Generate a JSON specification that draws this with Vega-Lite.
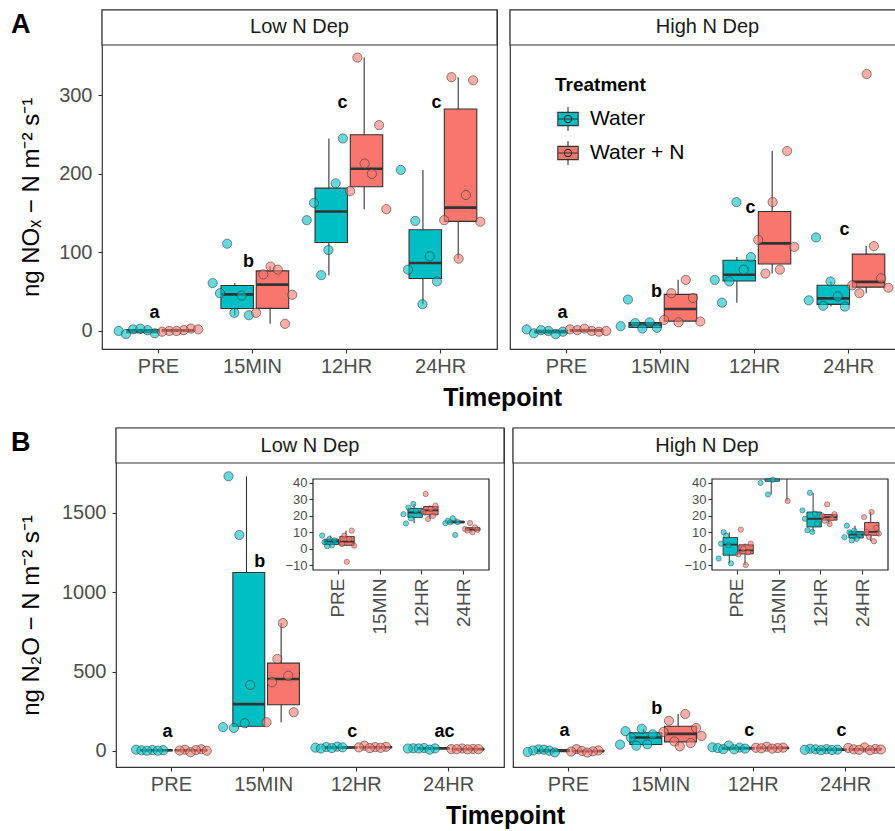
{
  "$schema": "https://vega.github.io/schema/vega-lite/v6.json",
  "background": "white",
  "padding": {"left": 10, "top": 8, "right": 0, "bottom": 0},
  "datasets": {
    "nox": [
      {"dep":"Low","time":"PRE","trt":"Water","rep":3,"flux":2},{"dep":"Low","time":"PRE","trt":"Water","rep":6,"flux":-3},{"dep":"Low","time":"PRE","trt":"Water","rep":1,"flux":0},{"dep":"Low","time":"PRE","trt":"Water","rep":5,"flux":1},{"dep":"Low","time":"PRE","trt":"Water","rep":2,"flux":-4},{"dep":"Low","time":"PRE","trt":"Water","rep":4,"flux":3},
      {"dep":"Low","time":"PRE","trt":"Water + N","rep":5,"flux":3},{"dep":"Low","time":"PRE","trt":"Water + N","rep":2,"flux":0},{"dep":"Low","time":"PRE","trt":"Water + N","rep":4,"flux":1},{"dep":"Low","time":"PRE","trt":"Water + N","rep":1,"flux":-1},{"dep":"Low","time":"PRE","trt":"Water + N","rep":6,"flux":2},{"dep":"Low","time":"PRE","trt":"Water + N","rep":3,"flux":0},
      {"dep":"Low","time":"15MIN","trt":"Water","rep":3,"flux":111},{"dep":"Low","time":"15MIN","trt":"Water","rep":1,"flux":61},{"dep":"Low","time":"15MIN","trt":"Water","rep":2,"flux":48},{"dep":"Low","time":"15MIN","trt":"Water","rep":5,"flux":45},{"dep":"Low","time":"15MIN","trt":"Water","rep":4,"flux":23},{"dep":"Low","time":"15MIN","trt":"Water","rep":6,"flux":20},
      {"dep":"Low","time":"15MIN","trt":"Water + N","rep":3,"flux":82},{"dep":"Low","time":"15MIN","trt":"Water + N","rep":4,"flux":78},{"dep":"Low","time":"15MIN","trt":"Water + N","rep":2,"flux":72},{"dep":"Low","time":"15MIN","trt":"Water + N","rep":6,"flux":46},{"dep":"Low","time":"15MIN","trt":"Water + N","rep":1,"flux":23},{"dep":"Low","time":"15MIN","trt":"Water + N","rep":5,"flux":9},
      {"dep":"Low","time":"12HR","trt":"Water","rep":6,"flux":245},{"dep":"Low","time":"12HR","trt":"Water","rep":5,"flux":188},{"dep":"Low","time":"12HR","trt":"Water","rep":2,"flux":163},{"dep":"Low","time":"12HR","trt":"Water","rep":1,"flux":141},{"dep":"Low","time":"12HR","trt":"Water","rep":4,"flux":103},{"dep":"Low","time":"12HR","trt":"Water","rep":3,"flux":71},
      {"dep":"Low","time":"12HR","trt":"Water + N","rep":2,"flux":348},{"dep":"Low","time":"12HR","trt":"Water + N","rep":5,"flux":262},{"dep":"Low","time":"12HR","trt":"Water + N","rep":3,"flux":213},{"dep":"Low","time":"12HR","trt":"Water + N","rep":4,"flux":200},{"dep":"Low","time":"12HR","trt":"Water + N","rep":1,"flux":178},{"dep":"Low","time":"12HR","trt":"Water + N","rep":6,"flux":155},
      {"dep":"Low","time":"24HR","trt":"Water","rep":1,"flux":205},{"dep":"Low","time":"24HR","trt":"Water","rep":3,"flux":140},{"dep":"Low","time":"24HR","trt":"Water","rep":5,"flux":95},{"dep":"Low","time":"24HR","trt":"Water","rep":2,"flux":78},{"dep":"Low","time":"24HR","trt":"Water","rep":6,"flux":63},{"dep":"Low","time":"24HR","trt":"Water","rep":4,"flux":34},
      {"dep":"Low","time":"24HR","trt":"Water + N","rep":2,"flux":323},{"dep":"Low","time":"24HR","trt":"Water + N","rep":5,"flux":319},{"dep":"Low","time":"24HR","trt":"Water + N","rep":4,"flux":173},{"dep":"Low","time":"24HR","trt":"Water + N","rep":1,"flux":141},{"dep":"Low","time":"24HR","trt":"Water + N","rep":6,"flux":139},{"dep":"Low","time":"24HR","trt":"Water + N","rep":3,"flux":92},
      {"dep":"High","time":"PRE","trt":"Water","rep":2,"flux":-3},{"dep":"High","time":"PRE","trt":"Water","rep":4,"flux":0},{"dep":"High","time":"PRE","trt":"Water","rep":1,"flux":2},{"dep":"High","time":"PRE","trt":"Water","rep":6,"flux":-1},{"dep":"High","time":"PRE","trt":"Water","rep":3,"flux":1},{"dep":"High","time":"PRE","trt":"Water","rep":5,"flux":-4},
      {"dep":"High","time":"PRE","trt":"Water + N","rep":4,"flux":0},{"dep":"High","time":"PRE","trt":"Water + N","rep":1,"flux":2},{"dep":"High","time":"PRE","trt":"Water + N","rep":5,"flux":-1},{"dep":"High","time":"PRE","trt":"Water + N","rep":2,"flux":1},{"dep":"High","time":"PRE","trt":"Water + N","rep":6,"flux":0},{"dep":"High","time":"PRE","trt":"Water + N","rep":3,"flux":3},
      {"dep":"High","time":"15MIN","trt":"Water","rep":2,"flux":40},{"dep":"High","time":"15MIN","trt":"Water","rep":5,"flux":11},{"dep":"High","time":"15MIN","trt":"Water","rep":3,"flux":10},{"dep":"High","time":"15MIN","trt":"Water","rep":1,"flux":6},{"dep":"High","time":"15MIN","trt":"Water","rep":6,"flux":4},{"dep":"High","time":"15MIN","trt":"Water","rep":4,"flux":3},
      {"dep":"High","time":"15MIN","trt":"Water + N","rep":4,"flux":65},{"dep":"High","time":"15MIN","trt":"Water + N","rep":2,"flux":48},{"dep":"High","time":"15MIN","trt":"Water + N","rep":5,"flux":42},{"dep":"High","time":"15MIN","trt":"Water + N","rep":1,"flux":14},{"dep":"High","time":"15MIN","trt":"Water + N","rep":6,"flux":12},{"dep":"High","time":"15MIN","trt":"Water + N","rep":3,"flux":11},
      {"dep":"High","time":"12HR","trt":"Water","rep":4,"flux":164},{"dep":"High","time":"12HR","trt":"Water","rep":6,"flux":94},{"dep":"High","time":"12HR","trt":"Water","rep":5,"flux":78},{"dep":"High","time":"12HR","trt":"Water","rep":1,"flux":65},{"dep":"High","time":"12HR","trt":"Water","rep":3,"flux":63},{"dep":"High","time":"12HR","trt":"Water","rep":2,"flux":36},
      {"dep":"High","time":"12HR","trt":"Water + N","rep":5,"flux":229},{"dep":"High","time":"12HR","trt":"Water + N","rep":3,"flux":164},{"dep":"High","time":"12HR","trt":"Water + N","rep":1,"flux":116},{"dep":"High","time":"12HR","trt":"Water + N","rep":6,"flux":107},{"dep":"High","time":"12HR","trt":"Water + N","rep":4,"flux":78},{"dep":"High","time":"12HR","trt":"Water + N","rep":2,"flux":73},
      {"dep":"High","time":"24HR","trt":"Water","rep":2,"flux":119},{"dep":"High","time":"24HR","trt":"Water","rep":4,"flux":63},{"dep":"High","time":"24HR","trt":"Water","rep":5,"flux":44},{"dep":"High","time":"24HR","trt":"Water","rep":1,"flux":39},{"dep":"High","time":"24HR","trt":"Water","rep":3,"flux":32},{"dep":"High","time":"24HR","trt":"Water","rep":6,"flux":31},
      {"dep":"High","time":"24HR","trt":"Water + N","rep":3,"flux":327},{"dep":"High","time":"24HR","trt":"Water + N","rep":4,"flux":108},{"dep":"High","time":"24HR","trt":"Water + N","rep":5,"flux":67},{"dep":"High","time":"24HR","trt":"Water + N","rep":1,"flux":58},{"dep":"High","time":"24HR","trt":"Water + N","rep":6,"flux":55},{"dep":"High","time":"24HR","trt":"Water + N","rep":2,"flux":48}
    ],
    "n2o": [
      {"dep":"Low","time":"PRE","trt":"Water","rep":2,"flux":8},{"dep":"Low","time":"PRE","trt":"Water","rep":5,"flux":6},{"dep":"Low","time":"PRE","trt":"Water","rep":7,"flux":5},{"dep":"Low","time":"PRE","trt":"Water","rep":3,"flux":4},{"dep":"Low","time":"PRE","trt":"Water","rep":6,"flux":2},{"dep":"Low","time":"PRE","trt":"Water","rep":4,"flux":1.5},
      {"dep":"Low","time":"PRE","trt":"Water + N","rep":6,"flux":11},{"dep":"Low","time":"PRE","trt":"Water + N","rep":3,"flux":8},{"dep":"Low","time":"PRE","trt":"Water + N","rep":5,"flux":5.8},{"dep":"Low","time":"PRE","trt":"Water + N","rep":2,"flux":2.8},{"dep":"Low","time":"PRE","trt":"Water + N","rep":7,"flux":1.8},{"dep":"Low","time":"PRE","trt":"Water + N","rep":4,"flux":-8},
      {"dep":"Low","time":"15MIN","trt":"Water","rep":2,"flux":1731},{"dep":"Low","time":"15MIN","trt":"Water","rep":4,"flux":1361},{"dep":"Low","time":"15MIN","trt":"Water","rep":6,"flux":416},{"dep":"Low","time":"15MIN","trt":"Water","rep":5,"flux":175},{"dep":"Low","time":"15MIN","trt":"Water","rep":1,"flux":150},{"dep":"Low","time":"15MIN","trt":"Water","rep":3,"flux":145},
      {"dep":"Low","time":"15MIN","trt":"Water + N","rep":4,"flux":806},{"dep":"Low","time":"15MIN","trt":"Water + N","rep":3,"flux":580},{"dep":"Low","time":"15MIN","trt":"Water + N","rep":5,"flux":474},{"dep":"Low","time":"15MIN","trt":"Water + N","rep":2,"flux":433},{"dep":"Low","time":"15MIN","trt":"Water + N","rep":6,"flux":244},{"dep":"Low","time":"15MIN","trt":"Water + N","rep":1,"flux":181},
      {"dep":"Low","time":"12HR","trt":"Water","rep":5,"flux":27.2},{"dep":"Low","time":"12HR","trt":"Water","rep":3,"flux":25},{"dep":"Low","time":"12HR","trt":"Water","rep":6,"flux":23},{"dep":"Low","time":"12HR","trt":"Water","rep":1,"flux":21},{"dep":"Low","time":"12HR","trt":"Water","rep":4,"flux":18.4},{"dep":"Low","time":"12HR","trt":"Water","rep":2,"flux":15.4},
      {"dep":"Low","time":"12HR","trt":"Water + N","rep":2,"flux":33.3},{"dep":"Low","time":"12HR","trt":"Water + N","rep":6,"flux":26.2},{"dep":"Low","time":"12HR","trt":"Water + N","rep":4,"flux":24.1},{"dep":"Low","time":"12HR","trt":"Water + N","rep":1,"flux":22.5},{"dep":"Low","time":"12HR","trt":"Water + N","rep":5,"flux":20},{"dep":"Low","time":"12HR","trt":"Water + N","rep":3,"flux":18},
      {"dep":"Low","time":"24HR","trt":"Water","rep":4,"flux":18.5},{"dep":"Low","time":"24HR","trt":"Water","rep":2,"flux":17},{"dep":"Low","time":"24HR","trt":"Water","rep":6,"flux":16.2},{"dep":"Low","time":"24HR","trt":"Water","rep":3,"flux":16},{"dep":"Low","time":"24HR","trt":"Water","rep":1,"flux":15.5},{"dep":"Low","time":"24HR","trt":"Water","rep":5,"flux":8.3},
      {"dep":"Low","time":"24HR","trt":"Water + N","rep":3,"flux":15.6},{"dep":"Low","time":"24HR","trt":"Water + N","rep":5,"flux":13},{"dep":"Low","time":"24HR","trt":"Water + N","rep":1,"flux":12},{"dep":"Low","time":"24HR","trt":"Water + N","rep":6,"flux":11.5},{"dep":"Low","time":"24HR","trt":"Water + N","rep":2,"flux":11},{"dep":"Low","time":"24HR","trt":"Water + N","rep":4,"flux":10},
      {"dep":"High","time":"PRE","trt":"Water","rep":3,"flux":10},{"dep":"High","time":"PRE","trt":"Water","rep":4,"flux":8},{"dep":"High","time":"PRE","trt":"Water","rep":2,"flux":3},{"dep":"High","time":"PRE","trt":"Water","rep":5,"flux":2},{"dep":"High","time":"PRE","trt":"Water","rep":1,"flux":-6},{"dep":"High","time":"PRE","trt":"Water","rep":6,"flux":-9},
      {"dep":"High","time":"PRE","trt":"Water + N","rep":2,"flux":11.6},{"dep":"High","time":"PRE","trt":"Water + N","rep":6,"flux":3.1},{"dep":"High","time":"PRE","trt":"Water + N","rep":3,"flux":0.1},{"dep":"High","time":"PRE","trt":"Water + N","rep":5,"flux":-2.3},{"dep":"High","time":"PRE","trt":"Water + N","rep":1,"flux":-3.5},{"dep":"High","time":"PRE","trt":"Water + N","rep":4,"flux":-10},
      {"dep":"High","time":"15MIN","trt":"Water","rep":5,"flux":140},{"dep":"High","time":"15MIN","trt":"Water","rep":2,"flux":125},{"dep":"High","time":"15MIN","trt":"Water","rep":7,"flux":105},{"dep":"High","time":"15MIN","trt":"Water","rep":3,"flux":85},{"dep":"High","time":"15MIN","trt":"Water","rep":6,"flux":42},{"dep":"High","time":"15MIN","trt":"Water","rep":1,"flux":40},{"dep":"High","time":"15MIN","trt":"Water","rep":4,"flux":33},
      {"dep":"High","time":"15MIN","trt":"Water + N","rep":5,"flux":233},{"dep":"High","time":"15MIN","trt":"Water + N","rep":2,"flux":190},{"dep":"High","time":"15MIN","trt":"Water + N","rep":7,"flux":145},{"dep":"High","time":"15MIN","trt":"Water + N","rep":1,"flux":120},{"dep":"High","time":"15MIN","trt":"Water + N","rep":8,"flux":95},{"dep":"High","time":"15MIN","trt":"Water + N","rep":3,"flux":60},{"dep":"High","time":"15MIN","trt":"Water + N","rep":6,"flux":50},{"dep":"High","time":"15MIN","trt":"Water + N","rep":4,"flux":29},
      {"dep":"High","time":"12HR","trt":"Water","rep":4,"flux":34},{"dep":"High","time":"12HR","trt":"Water","rep":1,"flux":23.3},{"dep":"High","time":"12HR","trt":"Water","rep":6,"flux":21.3},{"dep":"High","time":"12HR","trt":"Water","rep":2,"flux":18.2},{"dep":"High","time":"12HR","trt":"Water","rep":7,"flux":15.2},{"dep":"High","time":"12HR","trt":"Water","rep":3,"flux":11.2},{"dep":"High","time":"12HR","trt":"Water","rep":5,"flux":10.2},
      {"dep":"High","time":"12HR","trt":"Water + N","rep":3,"flux":27},{"dep":"High","time":"12HR","trt":"Water + N","rep":6,"flux":21},{"dep":"High","time":"12HR","trt":"Water + N","rep":1,"flux":20},{"dep":"High","time":"12HR","trt":"Water + N","rep":5,"flux":18.5},{"dep":"High","time":"12HR","trt":"Water + N","rep":2,"flux":17},{"dep":"High","time":"12HR","trt":"Water + N","rep":4,"flux":15},
      {"dep":"High","time":"24HR","trt":"Water","rep":2,"flux":14},{"dep":"High","time":"24HR","trt":"Water","rep":5,"flux":11},{"dep":"High","time":"24HR","trt":"Water","rep":3,"flux":10},{"dep":"High","time":"24HR","trt":"Water","rep":7,"flux":8.5},{"dep":"High","time":"24HR","trt":"Water","rep":1,"flux":7},{"dep":"High","time":"24HR","trt":"Water","rep":6,"flux":6},{"dep":"High","time":"24HR","trt":"Water","rep":4,"flux":5},
      {"dep":"High","time":"24HR","trt":"Water + N","rep":4,"flux":22.3},{"dep":"High","time":"24HR","trt":"Water + N","rep":1,"flux":19.2},{"dep":"High","time":"24HR","trt":"Water + N","rep":6,"flux":12.6},{"dep":"High","time":"24HR","trt":"Water + N","rep":2,"flux":10.2},{"dep":"High","time":"24HR","trt":"Water + N","rep":7,"flux":9.2},{"dep":"High","time":"24HR","trt":"Water + N","rep":3,"flux":7.1},{"dep":"High","time":"24HR","trt":"Water + N","rep":5,"flux":4.5}
    ],
    "lettersA": [
      {"dep":"Low","time":"PRE","lab":"a","ly":23},{"dep":"Low","time":"15MIN","lab":"b","ly":88},{"dep":"Low","time":"12HR","lab":"c","ly":290},{"dep":"Low","time":"24HR","lab":"c","ly":290},
      {"dep":"High","time":"PRE","lab":"a","ly":23},{"dep":"High","time":"15MIN","lab":"b","ly":50},{"dep":"High","time":"12HR","lab":"c","ly":157},{"dep":"High","time":"24HR","lab":"c","ly":129}
    ],
    "lettersB": [
      {"dep":"Low","time":"PRE","lab":"a","ly":120},{"dep":"Low","time":"15MIN","lab":"b","ly":1190},{"dep":"Low","time":"12HR","lab":"c","ly":120},{"dep":"Low","time":"24HR","lab":"ac","ly":120},
      {"dep":"High","time":"PRE","lab":"a","ly":126},{"dep":"High","time":"15MIN","lab":"b","ly":265},{"dep":"High","time":"12HR","lab":"c","ly":126},{"dep":"High","time":"24HR","lab":"c","ly":126}
    ]
  },
  "spacing": 15,
  "align": "none",
  "resolve": {"scale": {"color": "independent", "xOffset": "independent"}},
  "vconcat": [
    {
      "title": {"text": "A", "orient": "left", "anchor": "end", "angle": 0, "align": "right", "baseline": "top", "fontSize": 27, "fontWeight": "bold", "color": "black", "offset": -31, "dy": 3},
      "resolve": {"scale": {"color": "independent", "xOffset": "independent"}},
      "vconcat": [
        {
          "title": {"text": "Timepoint", "orient": "bottom", "anchor": "middle", "frame": "bounds", "fontSize": 25, "fontWeight": "bold", "color": "black", "offset": 9, "dx": 40},
          "spacing": 9,
          "resolve": {"scale": {"color": "independent", "xOffset": "independent"}},
          "hconcat": [
            {
              "data": {"name": "nox"},
              "transform": [{"filter": "datum.dep == 'Low'"}],
              "width": 395, "height": 339,
              "resolve": {"scale": {"xOffset": "independent"}},
              "layer": [
                {"data": {"values": [{"lab": "Low N Dep"}]},
                 "mark": {"type": "rect", "fill": "white", "stroke": "#333333", "strokeWidth": 1.2},
                 "encoding": {"y": {"datum": 364, "type": "quantitative", "scale": {"domain": [-23, 364], "range": [339, 35], "nice": false, "zero": false}, "axis": {"orient": "left", "values": [0, 100, 200, 300], "title": "ng NOₓ − N m⁻² s⁻¹", "titleFontSize": 24, "titlePadding": 15}}, "y2": {"datum": 408.6}}},
                {"data": {"values": [{"lab": "Low N Dep"}]},
                 "mark": {"type": "text", "fontSize": 20, "color": "#1a1a1a"},
                 "encoding": {"y": {"datum": 386.3, "type": "quantitative"}, "text": {"field": "lab"}}},
                {
                  "transform": [
                    {"joinaggregate": [{"op": "q1", "field": "flux", "as": "q1"}, {"op": "q3", "field": "flux", "as": "q3"}, {"op": "median", "field": "flux", "as": "med"}], "groupby": ["time", "trt"]},
                    {"calculate": "datum.q1 - 1.5 * (datum.q3 - datum.q1)", "as": "lf"},
                    {"calculate": "datum.q3 + 1.5 * (datum.q3 - datum.q1)", "as": "hf"},
                    {"filter": "datum.flux >= datum.lf && datum.flux <= datum.hf"},
                    {"aggregate": [{"op": "min", "field": "flux", "as": "lo"}, {"op": "max", "field": "flux", "as": "hi"}, {"op": "min", "field": "q1", "as": "q1"}, {"op": "min", "field": "q3", "as": "q3"}, {"op": "min", "field": "med", "as": "med"}], "groupby": ["time", "trt"]}
                  ],
                  "layer": [
                    {"mark": {"type": "rule", "color": "#333333", "strokeWidth": 1.1},
                     "encoding": {
                       "x": {"field": "time", "type": "nominal", "sort": ["PRE","15MIN","12HR","24HR"], "scale": {"domain": ["PRE","15MIN","12HR","24HR"], "paddingInner": 0, "paddingOuter": 0.1}, "axis": {"orient": "bottom", "title": null}},
                       "xOffset": {"field": "trt", "type": "nominal", "scale": {"domain": ["Water", "Water + N"], "paddingInner": 0, "paddingOuter": 0.333}},
                       "y": {"field": "lo", "type": "quantitative"},
                       "y2": {"field": "hi"}}},
                    {"mark": {"type": "bar", "stroke": "#333333", "strokeWidth": 1.1, "width": {"band": 0.92}},
                     "encoding": {
                       "x": {"field": "time", "type": "nominal", "sort": ["PRE","15MIN","12HR","24HR"]},
                       "xOffset": {"field": "trt", "type": "nominal"},
                       "y": {"field": "q1", "type": "quantitative"},
                       "y2": {"field": "q3"},
                       "color": {"field": "trt", "type": "nominal", "scale": {"domain": ["Water", "Water + N"], "range": ["#00BFC4", "#F8766D"]}, "legend": null}}},
                    {"mark": {"type": "bar", "fillOpacity": 0, "stroke": "#333333", "strokeWidth": 2.6, "width": {"band": 0.92}},
                     "encoding": {
                       "x": {"field": "time", "type": "nominal", "sort": ["PRE","15MIN","12HR","24HR"]},
                       "xOffset": {"field": "trt", "type": "nominal"},
                       "y": {"field": "med", "type": "quantitative"},
                       "y2": {"field": "med"}}}
                  ]
                },
                {
                  "transform": [{"calculate": "(datum.trt == 'Water' ? 'W' : 'N') + datum.rep", "as": "slot"}],
                  "mark": {"type": "point", "filled": true, "size": 85, "fillOpacity": 0.6, "stroke": "#333333", "strokeWidth": 0.8, "strokeOpacity": 0.7},
                  "encoding": {
                    "x": {"field": "time", "type": "nominal", "sort": ["PRE","15MIN","12HR","24HR"]},
                    "xOffset": {"field": "slot", "type": "nominal", "scale": {"domain": ["W1","W2","W3","W4","W5","W6","N1","N2","N3","N4","N5","N6"], "paddingInner": 0, "paddingOuter": 2}},
                    "y": {"field": "flux", "type": "quantitative"},
                    "color": {"field": "trt", "type": "nominal", "legend": null}}
                },
                {
                  "data": {"name": "lettersA"},
                  "transform": [{"filter": "datum.dep == 'Low'"}],
                  "mark": {"type": "text", "fontWeight": "bold", "fontSize": 18, "dx": -4, "color": "black"},
                  "encoding": {
                    "x": {"field": "time", "type": "nominal", "sort": ["PRE","15MIN","12HR","24HR"]},
                    "y": {"field": "ly", "type": "quantitative"},
                    "text": {"field": "lab"}}
                }
              ]
            },
            {
              "data": {"name": "nox"},
              "transform": [{"filter": "datum.dep == 'High'"}],
              "width": 395, "height": 339,
              "resolve": {"scale": {"xOffset": "independent"}},
              "layer": [
                {"data": {"values": [{"lab": "High N Dep"}]},
                 "mark": {"type": "rect", "fill": "white", "stroke": "#333333", "strokeWidth": 1.2},
                 "encoding": {"y": {"datum": 364, "type": "quantitative", "scale": {"domain": [-23, 364], "range": [339, 35], "nice": false, "zero": false}, "axis": null}, "y2": {"datum": 408.6}}},
                {"data": {"values": [{"lab": "High N Dep"}]},
                 "mark": {"type": "text", "fontSize": 20, "color": "#1a1a1a"},
                 "encoding": {"y": {"datum": 386.3, "type": "quantitative"}, "text": {"field": "lab"}}},
                {
                  "transform": [
                    {"joinaggregate": [{"op": "q1", "field": "flux", "as": "q1"}, {"op": "q3", "field": "flux", "as": "q3"}, {"op": "median", "field": "flux", "as": "med"}], "groupby": ["time", "trt"]},
                    {"calculate": "datum.q1 - 1.5 * (datum.q3 - datum.q1)", "as": "lf"},
                    {"calculate": "datum.q3 + 1.5 * (datum.q3 - datum.q1)", "as": "hf"},
                    {"filter": "datum.flux >= datum.lf && datum.flux <= datum.hf"},
                    {"aggregate": [{"op": "min", "field": "flux", "as": "lo"}, {"op": "max", "field": "flux", "as": "hi"}, {"op": "min", "field": "q1", "as": "q1"}, {"op": "min", "field": "q3", "as": "q3"}, {"op": "min", "field": "med", "as": "med"}], "groupby": ["time", "trt"]}
                  ],
                  "layer": [
                    {"mark": {"type": "rule", "color": "#333333", "strokeWidth": 1.1},
                     "encoding": {
                       "x": {"field": "time", "type": "nominal", "sort": ["PRE","15MIN","12HR","24HR"], "scale": {"domain": ["PRE","15MIN","12HR","24HR"], "paddingInner": 0, "paddingOuter": 0.1}, "axis": {"orient": "bottom", "title": null}},
                       "xOffset": {"field": "trt", "type": "nominal", "scale": {"domain": ["Water", "Water + N"], "paddingInner": 0, "paddingOuter": 0.333}},
                       "y": {"field": "lo", "type": "quantitative"},
                       "y2": {"field": "hi"}}},
                    {"mark": {"type": "bar", "stroke": "#333333", "strokeWidth": 1.1, "width": {"band": 0.92}},
                     "encoding": {
                       "x": {"field": "time", "type": "nominal", "sort": ["PRE","15MIN","12HR","24HR"]},
                       "xOffset": {"field": "trt", "type": "nominal"},
                       "y": {"field": "q1", "type": "quantitative"},
                       "y2": {"field": "q3"},
                       "color": {"field": "trt", "type": "nominal", "scale": {"domain": ["Water", "Water + N"], "range": ["#00BFC4", "#F8766D"]},
                         "legend": {"title": "Treatment", "orient": "none", "legendX": 45, "legendY": 66, "titleFontSize": 19, "titleFontWeight": "bold", "titleColor": "black", "titlePadding": 11, "labelFontSize": 21, "labelColor": "black", "labelOffset": 9, "symbolType": "M-0.85,-0.55H0.85V0.55H-0.85Z M-0.85,0H0.85 M0,-0.55V-1 M0,0.55V1 M0.3,0A0.3,0.3,0,1,1,-0.3,0A0.3,0.3,0,1,1,0.3,0", "symbolSize": 576, "symbolStrokeColor": "#333333", "symbolStrokeWidth": 1.1, "symbolOpacity": 1, "rowPadding": 4, "padding": 0}}}},
                    {"mark": {"type": "bar", "fillOpacity": 0, "stroke": "#333333", "strokeWidth": 2.6, "width": {"band": 0.92}},
                     "encoding": {
                       "x": {"field": "time", "type": "nominal", "sort": ["PRE","15MIN","12HR","24HR"]},
                       "xOffset": {"field": "trt", "type": "nominal"},
                       "y": {"field": "med", "type": "quantitative"},
                       "y2": {"field": "med"}}}
                  ]
                },
                {
                  "transform": [{"calculate": "(datum.trt == 'Water' ? 'W' : 'N') + datum.rep", "as": "slot"}],
                  "mark": {"type": "point", "filled": true, "size": 85, "fillOpacity": 0.6, "stroke": "#333333", "strokeWidth": 0.8, "strokeOpacity": 0.7},
                  "encoding": {
                    "x": {"field": "time", "type": "nominal", "sort": ["PRE","15MIN","12HR","24HR"]},
                    "xOffset": {"field": "slot", "type": "nominal", "scale": {"domain": ["W1","W2","W3","W4","W5","W6","N1","N2","N3","N4","N5","N6"], "paddingInner": 0, "paddingOuter": 2}},
                    "y": {"field": "flux", "type": "quantitative"},
                    "color": {"field": "trt", "type": "nominal", "legend": null}}
                },
                {
                  "data": {"name": "lettersA"},
                  "transform": [{"filter": "datum.dep == 'High'"}],
                  "mark": {"type": "text", "fontWeight": "bold", "fontSize": 18, "dx": -4, "color": "black"},
                  "encoding": {
                    "x": {"field": "time", "type": "nominal", "sort": ["PRE","15MIN","12HR","24HR"]},
                    "y": {"field": "ly", "type": "quantitative"},
                    "text": {"field": "lab"}}
                }
              ]
            }
          ]
        }
      ]
    },
    {
      "title": {"text": "B", "orient": "left", "anchor": "end", "angle": 0, "align": "right", "baseline": "top", "fontSize": 27, "fontWeight": "bold", "color": "black", "offset": -31, "dy": 3},
      "resolve": {"scale": {"color": "independent", "xOffset": "independent"}},
      "vconcat": [
        {
          "title": {"text": "Timepoint", "orient": "bottom", "anchor": "middle", "frame": "bounds", "fontSize": 25, "fontWeight": "bold", "color": "black", "offset": 9, "dx": 45},
          "spacing": 9,
          "bounds": "flush",
          "resolve": {"scale": {"color": "independent", "xOffset": "independent"}},
          "hconcat": [
            {
              "width": 5, "height": 339,
              "view": {"stroke": null, "fill": null},
              "data": {"values": [{"s": 0}]},
              "mark": {"type": "point", "opacity": 0},
              "encoding": {}
            },
            {
              "data": {"name": "n2o"},
              "transform": [{"filter": "datum.dep == 'Low'"}],
              "width": 388, "height": 339,
              "resolve": {"scale": {"x": "independent", "y": "independent", "xOffset": "independent"}, "axis": {"x": "independent", "y": "independent"}},
              "layer": [
                {
                  "resolve": {"scale": {"xOffset": "independent"}},
                  "layer": [
                    {"data": {"values": [{"lab": "Low N Dep"}]},
                     "mark": {"type": "rect", "fill": "white", "stroke": "#333333", "strokeWidth": 1.2},
                     "encoding": {"y": {"datum": 1815, "type": "quantitative", "scale": {"domain": [-101, 1815], "range": [339, 35], "nice": false, "zero": false}, "axis": {"orient": "left", "values": [0, 500, 1000, 1500], "format": "d", "title": "ng N₂O − N m⁻² s⁻¹", "titleFontSize": 24, "titlePadding": 18}}, "y2": {"datum": 2035.6}}},
                    {"data": {"values": [{"lab": "Low N Dep"}]},
                     "mark": {"type": "text", "fontSize": 20, "color": "#1a1a1a"},
                     "encoding": {"y": {"datum": 1925, "type": "quantitative"}, "text": {"field": "lab"}}},
                    {
                      "transform": [
                        {"joinaggregate": [{"op": "q1", "field": "flux", "as": "q1"}, {"op": "q3", "field": "flux", "as": "q3"}, {"op": "median", "field": "flux", "as": "med"}], "groupby": ["time", "trt"]},
                        {"calculate": "datum.q1 - 1.5 * (datum.q3 - datum.q1)", "as": "lf"},
                        {"calculate": "datum.q3 + 1.5 * (datum.q3 - datum.q1)", "as": "hf"},
                        {"filter": "datum.flux >= datum.lf && datum.flux <= datum.hf"},
                        {"aggregate": [{"op": "min", "field": "flux", "as": "lo"}, {"op": "max", "field": "flux", "as": "hi"}, {"op": "min", "field": "q1", "as": "q1"}, {"op": "min", "field": "q3", "as": "q3"}, {"op": "min", "field": "med", "as": "med"}], "groupby": ["time", "trt"]}
                      ],
                      "layer": [
                        {"mark": {"type": "rule", "color": "#333333", "strokeWidth": 1.1},
                         "encoding": {
                           "x": {"field": "time", "type": "nominal", "sort": ["PRE","15MIN","12HR","24HR"], "scale": {"domain": ["PRE","15MIN","12HR","24HR"], "paddingInner": 0, "paddingOuter": 0.1}, "axis": {"orient": "bottom", "title": null}},
                           "xOffset": {"field": "trt", "type": "nominal", "scale": {"domain": ["Water", "Water + N"], "paddingInner": 0, "paddingOuter": 0.333}},
                           "y": {"field": "lo", "type": "quantitative"},
                           "y2": {"field": "hi"}}},
                        {"mark": {"type": "bar", "stroke": "#333333", "strokeWidth": 1.1, "width": {"band": 0.92}},
                         "encoding": {
                           "x": {"field": "time", "type": "nominal", "sort": ["PRE","15MIN","12HR","24HR"]},
                           "xOffset": {"field": "trt", "type": "nominal"},
                           "y": {"field": "q1", "type": "quantitative"},
                           "y2": {"field": "q3"},
                           "color": {"field": "trt", "type": "nominal", "scale": {"domain": ["Water", "Water + N"], "range": ["#00BFC4", "#F8766D"]}, "legend": null}}},
                        {"mark": {"type": "bar", "fillOpacity": 0, "stroke": "#333333", "strokeWidth": 2.6, "width": {"band": 0.92}},
                         "encoding": {
                           "x": {"field": "time", "type": "nominal", "sort": ["PRE","15MIN","12HR","24HR"]},
                           "xOffset": {"field": "trt", "type": "nominal"},
                           "y": {"field": "med", "type": "quantitative"},
                           "y2": {"field": "med"}}}
                      ]
                    },
                    {
                      "transform": [{"calculate": "(datum.trt == 'Water' ? 'W' : 'N') + datum.rep", "as": "slot"}],
                      "mark": {"type": "point", "filled": true, "size": 85, "fillOpacity": 0.6, "stroke": "#333333", "strokeWidth": 0.8, "strokeOpacity": 0.7},
                      "encoding": {
                        "x": {"field": "time", "type": "nominal", "sort": ["PRE","15MIN","12HR","24HR"]},
                        "xOffset": {"field": "slot", "type": "nominal", "scale": {"domain": ["W1","W2","W3","W4","W5","W6","W7","W8","N1","N2","N3","N4","N5","N6","N7","N8"], "paddingInner": 0, "paddingOuter": 2.667}},
                        "y": {"field": "flux", "type": "quantitative"},
                        "color": {"field": "trt", "type": "nominal", "legend": null}}
                    },
                    {
                      "data": {"name": "lettersB"},
                      "transform": [{"filter": "datum.dep == 'Low'"}],
                      "mark": {"type": "text", "fontWeight": "bold", "fontSize": 18, "dx": -4, "color": "black"},
                      "encoding": {
                        "x": {"field": "time", "type": "nominal", "sort": ["PRE","15MIN","12HR","24HR"]},
                        "y": {"field": "ly", "type": "quantitative"},
                        "text": {"field": "lab"}}
                    }
                  ]
                },
                {
                  "data": {"values": [{"f": 0}]},
                  "mark": {"type": "rect", "fill": "white", "stroke": "#222222", "strokeWidth": 1.2},
                  "encoding": {
                    "x": {"datum": 0, "type": "quantitative", "scale": {"domain": [0, 1], "range": [197, 373]}, "axis": null},
                    "x2": {"datum": 1},
                    "y": {"datum": 0, "type": "quantitative", "scale": {"domain": [0, 1], "range": [142, 51]}, "axis": null},
                    "y2": {"datum": 1}}
                },
                {
                  "resolve": {"scale": {"xOffset": "independent"}},
                  "layer": [
                    {
                      "transform": [
                        {"joinaggregate": [{"op": "q1", "field": "flux", "as": "q1"}, {"op": "q3", "field": "flux", "as": "q3"}, {"op": "median", "field": "flux", "as": "med"}], "groupby": ["time", "trt"]},
                        {"calculate": "datum.q1 - 1.5 * (datum.q3 - datum.q1)", "as": "lf"},
                        {"calculate": "datum.q3 + 1.5 * (datum.q3 - datum.q1)", "as": "hf"},
                        {"filter": "datum.flux >= datum.lf && datum.flux <= datum.hf"},
                        {"aggregate": [{"op": "min", "field": "flux", "as": "lo"}, {"op": "max", "field": "flux", "as": "hi"}, {"op": "min", "field": "q1", "as": "q1"}, {"op": "min", "field": "q3", "as": "q3"}, {"op": "min", "field": "med", "as": "med"}], "groupby": ["time", "trt"]}
                      ],
                      "layer": [
                        {"transform": [{"filter": "datum.lo <= 42.4"}],
                         "mark": {"type": "rule", "color": "#333333", "strokeWidth": 1},
                         "encoding": {
                           "x": {"field": "time", "type": "nominal", "sort": ["PRE","15MIN","12HR","24HR"], "scale": {"domain": ["PRE","15MIN","12HR","24HR"], "paddingInner": 0, "paddingOuter": 0.1, "range": [197, 373]}, "axis": {"orient": "bottom", "offset": -197, "title": null, "labelAngle": 270, "labelAlign": "right", "labelBaseline": "middle", "labelFontSize": 19, "labelPadding": 4, "tickSize": 4}},
                           "xOffset": {"field": "trt", "type": "nominal", "scale": {"domain": ["Water", "Water + N"], "paddingInner": 0, "paddingOuter": 0.333}},
                           "y": {"field": "lo", "type": "quantitative", "scale": {"domain": [-13, 42.4], "range": [142, 51], "clamp": true, "nice": false, "zero": false}, "axis": {"orient": "left", "offset": -197, "title": null, "values": [-10, 0, 10, 20, 30, 40], "labelFontSize": 13, "labelPadding": 2, "tickSize": 4, "labelOverlap": false}},
                           "y2": {"field": "hi"}}},
                        {"transform": [{"filter": "datum.q1 <= 42.4"}],
                         "mark": {"type": "bar", "stroke": "#333333", "strokeWidth": 0.9, "width": {"band": 0.92}},
                         "encoding": {
                           "x": {"field": "time", "type": "nominal", "sort": ["PRE","15MIN","12HR","24HR"]},
                           "xOffset": {"field": "trt", "type": "nominal"},
                           "y": {"field": "q1", "type": "quantitative"},
                           "y2": {"field": "q3"},
                           "color": {"field": "trt", "type": "nominal", "scale": {"domain": ["Water", "Water + N"], "range": ["#00BFC4", "#F8766D"]}, "legend": null}}},
                        {"transform": [{"filter": "datum.med <= 42.4"}],
                         "mark": {"type": "bar", "fillOpacity": 0, "stroke": "#333333", "strokeWidth": 1.8, "width": {"band": 0.92}},
                         "encoding": {
                           "x": {"field": "time", "type": "nominal", "sort": ["PRE","15MIN","12HR","24HR"]},
                           "xOffset": {"field": "trt", "type": "nominal"},
                           "y": {"field": "med", "type": "quantitative"},
                           "y2": {"field": "med"}}}
                      ]
                    },
                    {
                      "transform": [{"filter": "datum.flux >= -13 && datum.flux <= 42.4"}, {"calculate": "(datum.trt == 'Water' ? 'W' : 'N') + datum.rep", "as": "slot"}],
                      "mark": {"type": "point", "filled": true, "size": 28, "fillOpacity": 0.6, "stroke": "#333333", "strokeWidth": 0.6, "strokeOpacity": 0.7},
                      "encoding": {
                        "x": {"field": "time", "type": "nominal", "sort": ["PRE","15MIN","12HR","24HR"]},
                        "xOffset": {"field": "slot", "type": "nominal", "scale": {"domain": ["W1","W2","W3","W4","W5","W6","W7","W8","N1","N2","N3","N4","N5","N6","N7","N8"], "paddingInner": 0, "paddingOuter": 2.667}},
                        "y": {"field": "flux", "type": "quantitative"},
                        "color": {"field": "trt", "type": "nominal", "legend": null}}
                    }
                  ]
                }
              ]
            },
            {
              "data": {"name": "n2o"},
              "transform": [{"filter": "datum.dep == 'High'"}],
              "width": 388, "height": 339,
              "resolve": {"scale": {"x": "independent", "y": "independent", "xOffset": "independent"}, "axis": {"x": "independent", "y": "independent"}},
              "layer": [
                {
                  "resolve": {"scale": {"xOffset": "independent"}},
                  "layer": [
                    {"data": {"values": [{"lab": "High N Dep"}]},
                     "mark": {"type": "rect", "fill": "white", "stroke": "#333333", "strokeWidth": 1.2},
                     "encoding": {"y": {"datum": 1815, "type": "quantitative", "scale": {"domain": [-101, 1815], "range": [339, 35], "nice": false, "zero": false}, "axis": null}, "y2": {"datum": 2035.6}}},
                    {"data": {"values": [{"lab": "High N Dep"}]},
                     "mark": {"type": "text", "fontSize": 20, "color": "#1a1a1a"},
                     "encoding": {"y": {"datum": 1925, "type": "quantitative"}, "text": {"field": "lab"}}},
                    {
                      "transform": [
                        {"joinaggregate": [{"op": "q1", "field": "flux", "as": "q1"}, {"op": "q3", "field": "flux", "as": "q3"}, {"op": "median", "field": "flux", "as": "med"}], "groupby": ["time", "trt"]},
                        {"calculate": "datum.q1 - 1.5 * (datum.q3 - datum.q1)", "as": "lf"},
                        {"calculate": "datum.q3 + 1.5 * (datum.q3 - datum.q1)", "as": "hf"},
                        {"filter": "datum.flux >= datum.lf && datum.flux <= datum.hf"},
                        {"aggregate": [{"op": "min", "field": "flux", "as": "lo"}, {"op": "max", "field": "flux", "as": "hi"}, {"op": "min", "field": "q1", "as": "q1"}, {"op": "min", "field": "q3", "as": "q3"}, {"op": "min", "field": "med", "as": "med"}], "groupby": ["time", "trt"]}
                      ],
                      "layer": [
                        {"mark": {"type": "rule", "color": "#333333", "strokeWidth": 1.1},
                         "encoding": {
                           "x": {"field": "time", "type": "nominal", "sort": ["PRE","15MIN","12HR","24HR"], "scale": {"domain": ["PRE","15MIN","12HR","24HR"], "paddingInner": 0, "paddingOuter": 0.1}, "axis": {"orient": "bottom", "title": null}},
                           "xOffset": {"field": "trt", "type": "nominal", "scale": {"domain": ["Water", "Water + N"], "paddingInner": 0, "paddingOuter": 0.333}},
                           "y": {"field": "lo", "type": "quantitative"},
                           "y2": {"field": "hi"}}},
                        {"mark": {"type": "bar", "stroke": "#333333", "strokeWidth": 1.1, "width": {"band": 0.92}},
                         "encoding": {
                           "x": {"field": "time", "type": "nominal", "sort": ["PRE","15MIN","12HR","24HR"]},
                           "xOffset": {"field": "trt", "type": "nominal"},
                           "y": {"field": "q1", "type": "quantitative"},
                           "y2": {"field": "q3"},
                           "color": {"field": "trt", "type": "nominal", "scale": {"domain": ["Water", "Water + N"], "range": ["#00BFC4", "#F8766D"]}, "legend": null}}},
                        {"mark": {"type": "bar", "fillOpacity": 0, "stroke": "#333333", "strokeWidth": 2.6, "width": {"band": 0.92}},
                         "encoding": {
                           "x": {"field": "time", "type": "nominal", "sort": ["PRE","15MIN","12HR","24HR"]},
                           "xOffset": {"field": "trt", "type": "nominal"},
                           "y": {"field": "med", "type": "quantitative"},
                           "y2": {"field": "med"}}}
                      ]
                    },
                    {
                      "transform": [{"calculate": "(datum.trt == 'Water' ? 'W' : 'N') + datum.rep", "as": "slot"}],
                      "mark": {"type": "point", "filled": true, "size": 85, "fillOpacity": 0.6, "stroke": "#333333", "strokeWidth": 0.8, "strokeOpacity": 0.7},
                      "encoding": {
                        "x": {"field": "time", "type": "nominal", "sort": ["PRE","15MIN","12HR","24HR"]},
                        "xOffset": {"field": "slot", "type": "nominal", "scale": {"domain": ["W1","W2","W3","W4","W5","W6","W7","W8","N1","N2","N3","N4","N5","N6","N7","N8"], "paddingInner": 0, "paddingOuter": 2.667}},
                        "y": {"field": "flux", "type": "quantitative"},
                        "color": {"field": "trt", "type": "nominal", "legend": null}}
                    },
                    {
                      "data": {"name": "lettersB"},
                      "transform": [{"filter": "datum.dep == 'High'"}],
                      "mark": {"type": "text", "fontWeight": "bold", "fontSize": 18, "dx": -4, "color": "black"},
                      "encoding": {
                        "x": {"field": "time", "type": "nominal", "sort": ["PRE","15MIN","12HR","24HR"]},
                        "y": {"field": "ly", "type": "quantitative"},
                        "text": {"field": "lab"}}
                    }
                  ]
                },
                {
                  "data": {"values": [{"f": 0}]},
                  "mark": {"type": "rect", "fill": "white", "stroke": "#222222", "strokeWidth": 1.2},
                  "encoding": {
                    "x": {"datum": 0, "type": "quantitative", "scale": {"domain": [0, 1], "range": [199, 375]}, "axis": null},
                    "x2": {"datum": 1},
                    "y": {"datum": 0, "type": "quantitative", "scale": {"domain": [0, 1], "range": [142, 51]}, "axis": null},
                    "y2": {"datum": 1}}
                },
                {
                  "resolve": {"scale": {"xOffset": "independent"}},
                  "layer": [
                    {
                      "transform": [
                        {"joinaggregate": [{"op": "q1", "field": "flux", "as": "q1"}, {"op": "q3", "field": "flux", "as": "q3"}, {"op": "median", "field": "flux", "as": "med"}], "groupby": ["time", "trt"]},
                        {"calculate": "datum.q1 - 1.5 * (datum.q3 - datum.q1)", "as": "lf"},
                        {"calculate": "datum.q3 + 1.5 * (datum.q3 - datum.q1)", "as": "hf"},
                        {"filter": "datum.flux >= datum.lf && datum.flux <= datum.hf"},
                        {"aggregate": [{"op": "min", "field": "flux", "as": "lo"}, {"op": "max", "field": "flux", "as": "hi"}, {"op": "min", "field": "q1", "as": "q1"}, {"op": "min", "field": "q3", "as": "q3"}, {"op": "min", "field": "med", "as": "med"}], "groupby": ["time", "trt"]}
                      ],
                      "layer": [
                        {"transform": [{"filter": "datum.lo <= 42.4"}],
                         "mark": {"type": "rule", "color": "#333333", "strokeWidth": 1},
                         "encoding": {
                           "x": {"field": "time", "type": "nominal", "sort": ["PRE","15MIN","12HR","24HR"], "scale": {"domain": ["PRE","15MIN","12HR","24HR"], "paddingInner": 0, "paddingOuter": 0.1, "range": [199, 375]}, "axis": {"orient": "bottom", "offset": -197, "title": null, "labelAngle": 270, "labelAlign": "right", "labelBaseline": "middle", "labelFontSize": 19, "labelPadding": 4, "tickSize": 4}},
                           "xOffset": {"field": "trt", "type": "nominal", "scale": {"domain": ["Water", "Water + N"], "paddingInner": 0, "paddingOuter": 0.333}},
                           "y": {"field": "lo", "type": "quantitative", "scale": {"domain": [-13, 42.4], "range": [142, 51], "clamp": true, "nice": false, "zero": false}, "axis": {"orient": "left", "offset": -199, "title": null, "values": [-10, 0, 10, 20, 30, 40], "labelFontSize": 13, "labelPadding": 2, "tickSize": 4, "labelOverlap": false}},
                           "y2": {"field": "hi"}}},
                        {"transform": [{"filter": "datum.q1 <= 42.4"}],
                         "mark": {"type": "bar", "stroke": "#333333", "strokeWidth": 0.9, "width": {"band": 0.92}},
                         "encoding": {
                           "x": {"field": "time", "type": "nominal", "sort": ["PRE","15MIN","12HR","24HR"]},
                           "xOffset": {"field": "trt", "type": "nominal"},
                           "y": {"field": "q1", "type": "quantitative"},
                           "y2": {"field": "q3"},
                           "color": {"field": "trt", "type": "nominal", "scale": {"domain": ["Water", "Water + N"], "range": ["#00BFC4", "#F8766D"]}, "legend": null}}},
                        {"transform": [{"filter": "datum.med <= 42.4"}],
                         "mark": {"type": "bar", "fillOpacity": 0, "stroke": "#333333", "strokeWidth": 1.8, "width": {"band": 0.92}},
                         "encoding": {
                           "x": {"field": "time", "type": "nominal", "sort": ["PRE","15MIN","12HR","24HR"]},
                           "xOffset": {"field": "trt", "type": "nominal"},
                           "y": {"field": "med", "type": "quantitative"},
                           "y2": {"field": "med"}}}
                      ]
                    },
                    {
                      "transform": [{"filter": "datum.flux >= -13 && datum.flux <= 42.4"}, {"calculate": "(datum.trt == 'Water' ? 'W' : 'N') + datum.rep", "as": "slot"}],
                      "mark": {"type": "point", "filled": true, "size": 28, "fillOpacity": 0.6, "stroke": "#333333", "strokeWidth": 0.6, "strokeOpacity": 0.7},
                      "encoding": {
                        "x": {"field": "time", "type": "nominal", "sort": ["PRE","15MIN","12HR","24HR"]},
                        "xOffset": {"field": "slot", "type": "nominal", "scale": {"domain": ["W1","W2","W3","W4","W5","W6","W7","W8","N1","N2","N3","N4","N5","N6","N7","N8"], "paddingInner": 0, "paddingOuter": 2.667}},
                        "y": {"field": "flux", "type": "quantitative"},
                        "color": {"field": "trt", "type": "nominal", "legend": null}}
                    }
                  ]
                }
              ]
            }
          ]
        }
      ]
    }
  ],
  "config": {
    "font": "Liberation Sans",
    "view": {"stroke": "#333333", "strokeWidth": 1.2, "fill": "white"},
    "axis": {"grid": false, "domain": false, "tickColor": "#333333", "tickSize": 4, "tickWidth": 1.1, "labelColor": "#4d4d4d", "labelFontSize": 20, "titleColor": "black", "titleFontWeight": "normal"},
    "axisX": {"labelAngle": 0, "labelPadding": 3},
    "axisY": {"labelPadding": 6},
    "title": {"font": "Liberation Sans"}
  }
}
